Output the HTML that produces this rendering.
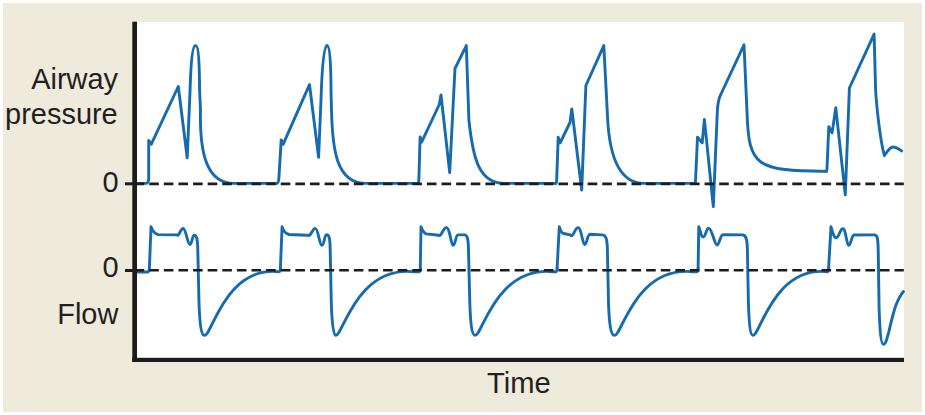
<!DOCTYPE html>
<html><head><meta charset="utf-8">
<style>
html,body{margin:0;padding:0;background:#fff;}
body{width:925px;height:415px;overflow:hidden;position:relative;}
#frame{position:absolute;left:3px;top:3px;width:919px;height:409px;background:#eeeadc;}
#plot{position:absolute;left:137px;top:22px;width:767px;height:336px;background:#fff;}
.lbl{position:absolute;font-family:"Liberation Sans",sans-serif;font-size:30px;color:#231f20;line-height:1;white-space:nowrap;transform:scaleX(0.965);transform-origin:100% 50%;}
svg{position:absolute;left:0;top:0;}
</style></head><body>
<div id="frame"></div>
<div id="plot"></div>
<div class="lbl" style="right:807px;top:64px;text-align:right;">Airway</div>
<div class="lbl" style="right:807px;top:98.5px;text-align:right;">pressure</div>
<div class="lbl" style="right:806.5px;top:167px;">0</div>
<div class="lbl" style="right:806.5px;top:251.8px;">0</div>
<div class="lbl" style="right:807px;top:299.3px;">Flow</div>
<div class="lbl" style="left:486.5px;top:367.5px;transform:scaleX(0.972);transform-origin:0 50%;">Time</div>
<svg width="925" height="415" viewBox="0 0 925 415">
<g fill="none" stroke="#166aae" stroke-width="2.9" stroke-linejoin="round" stroke-linecap="round">
<path d="M137,183.4 L145.8,183.4 Q148.6,183.4 148.7,178 L148.7,140.4 L151.2,144.3 L178.3,86.5 L187.2,157.7 L190,92 C190.9,62 192.6,45.5 195.6,45.5 C198.6,45.5 199.4,65 199.6,90 L200.5,110 C199.5,153.4 206.7,183.4 234,183.4 L276.5,183.4"/>
<path d="M276.5,183.4 Q278.6,183.4 278.9,178 L281.2,139.9 L283.1,144.3 L309.5,84.7 L318.6,157.2 L321,100 C321.9,70 323.6,45.5 326.9,45.5 C330.2,45.5 330.9,70 331.1,95 L331.5,110 C332.4,149.4 336.2,183.4 366,183.4 L417.5,183.4"/>
<path d="M417.5,183.4 Q418.8,183.4 418.9,179 L420.1,136.9 L421.6,142.2 L439.3,104.5 L441,95 L449.7,172.6 L455,68.5 L466.3,45.6 L468.9,120 C472.9,158.2 478.7,183.4 505,183.4 L555.8,183.4"/>
<path d="M555.8,183.4 Q556.6,183.4 556.7,179 L558.2,137.2 L560.2,142.8 L570,122.5 L571.8,109 L581.7,190 L585.9,85.5 L603.8,45.6 L607.6,118 C609.4,155.2 618.7,183.4 644,183.4 L695,183.4"/>
<path d="M695,183.4 Q695.5,183.4 695.6,179 L697.5,137.2 L702.2,142.9 L704.4,119.4 L713.3,206.6 L717.3,112 Q717.8,100 721,94 L744,44.8 L747,112 C748.6,167.8 756.8,170.4 826.4,171.3"/>
<path d="M826.4,171.3 Q826.9,171.3 827,168 L828.8,126.8 L832.1,132.8 L835.8,107.8 L845.3,194.8 L849.4,88 L874.1,34.1 L875.6,90 C876.5,105 880,140 884.4,155.6 C887.5,151 890,147 893,147 C896,147 899,149.3 901.6,150.9"/>
<path d="M137,272.0 L147.6,272.0 Q149.3,272.0 149.4,268 L151,226.8 Q153,233 158,234.6 L177,234.9 C179,237 180.5,228.5 183.1,228.5 C186,228.5 187.5,244.5 189.8,244.5 C192,244.5 192.3,235.2 194.2,235.2 C196.8,235.2 197.6,240 197.8,250 L199,303 C199.8,325 201.5,335.3 204.5,335.3 C211.57,336.65 224.93,266.38 278.30,271.70 L278.8,271.8 Q280.3,271.8 280.4,268"/>
<path d="M280.4,268 L282.1,226.8 Q284,233 289,234.5 L307.9,235.2 C311,237 312.3,228.4 315.2,228.4 C318.3,228.4 319.3,245.3 321.9,245.3 C324.4,245.3 324.2,234.8 326.6,234.8 C329.4,234.8 330.1,240 330.2,250 L331.3,303 C332,325 333.5,335.3 335.6,335.3 C342.67,336.65 356.03,266.38 413.60,271.70 L418.40,271.70 L418.8,271.8 Q420.2,271.8 420.3,268"/>
<path d="M420.3,268 L421,226.8 Q423,232.5 426.1,233.9 L438.7,235.2 C441,238 443,227.6 446.3,227.6 C450,227.6 451,245.4 453.1,245.4 C455.5,245.4 455.5,235.2 458,234.9 L464.5,234.9 C467.5,234.9 468.3,239 468.5,250 L469.8,303 C470.6,325 472,335.3 475,335.3 C482.07,336.65 495.43,266.38 553.00,271.70 L555.40,271.70 L555.8,271.8 Q557,271.8 557.1,268"/>
<path d="M557.1,268 L559.3,226.8 Q561,232.5 563.5,233.5 L570.3,234.9 C573,239 575,227.6 577.9,227.6 C581.5,227.6 582.5,244.5 584.6,244.5 C587,244.5 587.3,234.4 590,234.2 L602,234.9 C606,234.9 607.2,239 607.4,250 L608.5,303 C609.3,325 611,335.3 614.5,335.3 C621.57,336.65 634.93,266.38 692.50,271.70 L696.40,271.70 L696.6,271.8 Q698,271.8 698.1,268"/>
<path d="M698.1,268 L698.8,226.8 C700.5,232 701.5,237 703,237 C706,237 706,228.2 708.6,228.2 C712,228.2 714.5,245 717,245 C719.5,245 720,235 723,234.6 L742.5,234.9 C746,234.9 747.2,239 747.4,250 L748.4,303 C749.2,325 750.5,335.3 752.8,335.3 C759.87,336.65 773.23,266.38 827.00,271.70 L827.3,271.8 Q828.5,271.8 828.6,268"/>
<path d="M828.6,268 L831,226.8 C832.5,232 834,237.8 836.1,237.8 C839,237.8 840,228.8 842.8,228.8 C846,228.8 846.5,245.4 848.7,245.4 C851,245.4 851.5,235.5 854,235 L874.5,234.9 C877.5,234.9 878,239 878.2,250 L879.1,308 C879.8,330 881,344.3 883.4,344.3 C886,344.3 887,338 888.7,332.3 C890.5,325 893,313 896,305 C898,300 900.5,295 903.4,291.5"/>
</g>
<g stroke="#1e1b1a" stroke-width="2.6" fill="none">
<line x1="125" y1="183.8" x2="137" y2="183.8" stroke-width="3"/>
<line x1="125" y1="270.5" x2="137" y2="270.5" stroke-width="3"/>
<line x1="136.4" y1="183.9" x2="903.8" y2="183.9" stroke-dasharray="9.6 5.015" stroke-dashoffset="1.8"/>
<line x1="136.4" y1="270.3" x2="903.8" y2="270.3" stroke-dasharray="9.6 5.015" stroke-dashoffset="1.8"/>
</g>
<rect x="132.3" y="21.7" width="4.7" height="340.3" fill="#1e1b1a"/>
<rect x="132.3" y="357.8" width="771.7" height="4.2" fill="#1e1b1a"/>
</svg>
</body></html>
